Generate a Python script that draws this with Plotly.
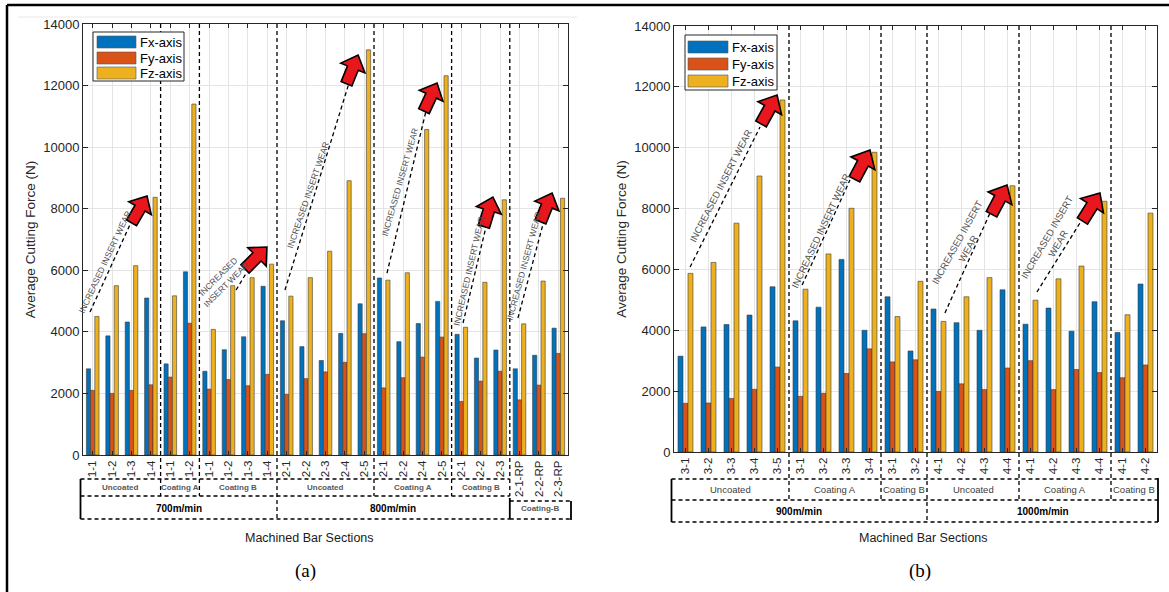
import math
import plotly.graph_objects as go

W, H = 1169, 592
YMAX = 14000

# ---------------- data : panel (a) ----------------
a_labels = ["1-1", "1-2", "1-3", "1-4", "1-1", "1-2", "1-1", "1-2", "1-3", "1-4",
            "2-1", "2-2", "2-3", "2-4", "2-5", "2-1", "2-2", "2-4", "2-5",
            "2-1", "2-2", "2-3", "2-1-RP", "2-2-RP", "2-3-RP"]
a_fx = [2800, 3870, 4320, 5100, 2960, 5950, 2720, 3420, 3840, 5480,
        4360, 3520, 3070, 3950, 4910, 5750, 3680, 4270, 4990,
        3920, 3150, 3410, 2800, 3240, 4120]
a_fy = [2100, 2000, 2100, 2280, 2530, 4280, 2140, 2450, 2250, 2620,
        1970, 2480, 2700, 3010, 3940, 2180, 2510, 3180, 3830,
        1740, 2400, 2720, 1790, 2270, 3300]
a_fz = [4500, 5500, 6150, 8370, 5170, 11400, 4080, 5500, 5760, 6200,
        5160, 5760, 6620, 8910, 13160, 5680, 5920, 10570, 12320,
        4150, 5610, 8290, 4260, 5650, 8340]
a_groups = ["Uncoated", "Coating A", "Coating B", "Uncoated", "Coating A", "Coating B"]
a_group_sizes = [4, 2, 4, 5, 4, 3]
a_speeds = ["700m/min", "800m/min"]
a_speed_groups = [3, 3]
a_extra_label = "Coating-B"
a_extra_size = 3

# ---------------- data : panel (b) ----------------
b_labels = ["3-1", "3-2", "3-3", "3-4", "3-5", "3-1", "3-2", "3-3", "3-4", "3-1", "3-2",
            "4-1", "4-2", "4-3", "4-4", "4-1", "4-2", "4-3", "4-4", "4-1", "4-2"]
b_fx = [3150, 4110, 4190, 4500, 5430, 4310, 4760, 6330, 4000, 5100, 3320,
        4700, 4250, 4000, 5330, 4200, 4730, 3970, 4940, 3930, 5520]
b_fy = [1600, 1610, 1760, 2060, 2790, 1830, 1930, 2580, 3390, 2960, 3030,
        1990, 2240, 2050, 2760, 3000, 2050, 2710, 2610, 2440, 2860]
b_fz = [5870, 6230, 7520, 9070, 11570, 5350, 6510, 8010, 9850, 4450, 5610,
        4290, 5100, 5730, 8750, 4990, 5690, 6110, 8240, 4510, 7850]
b_groups = ["Uncoated", "Coating A", "Coating B", "Uncoated", "Coating A", "Coating B"]
b_group_sizes = [5, 4, 2, 4, 4, 2]
b_speeds = ["900m/min", "1000m/min"]
b_speed_groups = [3, 3]

series_names = ["Fx-axis", "Fy-axis", "Fz-axis"]
series_colors = ["#0072BD", "#D95319", "#EDB120"]

# "increased insert wear" call-outs, in data units (category index, force N)
a_wear = [
    dict(line=(-0.14, 4645, 2.08, 7698), text=(0.63, 6269), ang=65, txt="INCREASED INSERT WEAR", tip=(2.80, 8412), aang=60),
    dict(line=(7.39, 5359, 7.95, 5944), text=(6.66, 5684), ang=45, txt="INCREASED<br>INSERT WEAR", tip=(8.98, 6756), aang=45),
    dict(line=(9.91, 5359, 13.26, 12180), text=(11.10, 8445), ang=71, txt="INCREASED INSERT WEAR", tip=(13.68, 12992), aang=68),
    dict(line=(15.17, 5911, 17.23, 11303), text=(15.84, 8867), ang=74, txt="INCREASED INSERT WEAR", tip=(17.75, 12083), aang=65),
    dict(line=(19.09, 4287, 20.32, 7535), text=(19.40, 5976), ang=77, txt="INCREASED INSERT WEAR", tip=(20.63, 8380), aang=73),
    dict(line=(21.92, 4450, 23.31, 7730), text=(22.23, 6139), ang=75, txt="INCREASED INSERT WEAR", tip=(23.68, 8510), aang=68),
]
b_wear = [
    dict(line=(0.20, 6079, 3.24, 10680), text=(1.50, 8741), ang=63, txt="INCREASED INSERT WEAR", tip=(3.98, 11731), aang=61),
    dict(line=(5.07, 5488, 7.15, 8938), text=(5.85, 7262), ang=65, txt="INCREASED INSERT WEAR", tip=(8.02, 9924), aang=62),
    dict(line=(11.28, 4568, 13.24, 7854), text=(12.02, 6802), ang=61, txt="INCREASED INSERT<br>WEAR", tip=(13.98, 8774), aang=62),
    dict(line=(15.28, 5258, 17.15, 7525), text=(15.93, 6966), ang=60, txt="INCREASED INSERT<br>WEAR", tip=(18.02, 8511), aang=58),
]

# ---------------- layout geometry (pixels) ----------------
panels = [
    dict(labels=a_labels, vals=(a_fx, a_fy, a_fz), groups=a_groups, gsizes=a_group_sizes,
         speeds=a_speeds, sgroups=a_speed_groups, wear=a_wear,
         xa="x", ya="y", xkey="xaxis", ykey="yaxis",
         px0=83, px1=568, py0=24, py1=455,
         rows=(479, 496, 519), lab_y=(487, 508), row1_size=8, row1_color="#595959",
         row1_bold=True, lab_size=8.6, arrow=(31, 13, 14, 5.8),
         xtitle_x=310, cap="(a)", cap_x=305, ytitle_pad=4,
         leg=dict(x0=93, y0=32, x1=184, y1=81, sw_x0=97, sw_x1=136, text_x=138, rows=(42, 58, 73))),
    dict(labels=b_labels, vals=(b_fx, b_fy, b_fz), groups=b_groups, gsizes=b_group_sizes,
         speeds=b_speeds, sgroups=b_speed_groups, wear=b_wear,
         xa="x2", ya="y2", xkey="xaxis2", ykey="yaxis2",
         px0=674, px1=1157, py0=26, py1=452,
         rows=(479, 500, 522), lab_y=(489, 511), row1_size=9.5, row1_color="#404040",
         row1_bold=False, lab_size=9.6, arrow=(33, 13.5, 15, 6),
         xtitle_x=923, cap="(b)", cap_x=920, ytitle_pad=4,
         leg=dict(x0=685, y0=35, x1=777, y1=90, sw_x0=688, sw_x1=728, text_x=730, rows=(47, 64, 81))),
]


def XP(px):
    return px / W


def YP(py):
    return 1 - py / H


def xpx(p, i):
    return p["px0"] + (i + 0.5) / p["n"] * (p["px1"] - p["px0"])


def ypx(p, v):
    return p["py1"] - v / YMAX * (p["py1"] - p["py0"])


DASH = "4px,3px"
shapes = []
annotations = []


def seg(x0, y0, x1, y1, dash=True, width=1.3, color="black"):
    shapes.append(dict(type="line", xref="paper", yref="paper",
                       x0=XP(x0), y0=YP(y0), x1=XP(x1), y1=YP(y1),
                       line=dict(color=color, width=width, dash=DASH if dash else "solid")))


def rect(x0, y0, x1, y1, fill, line_color, width):
    shapes.append(dict(type="rect", xref="paper", yref="paper",
                       x0=XP(x0), y0=YP(y1), x1=XP(x1), y1=YP(y0),
                       fillcolor=fill, line=dict(color=line_color, width=width)))


def label(x, y, text, size, color="black", bold=False, family="Liberation Sans", xanchor="center"):
    annotations.append(dict(xref="paper", yref="paper", x=XP(x), y=YP(y), text=f"<b>{text}</b>" if bold else text,
                            showarrow=False, xanchor=xanchor, yanchor="middle",
                            font=dict(size=size, color=color, family=family)))


def arrow_path(tx, ty, ang, L, hw, hl, sw):
    a = math.radians(ang)
    ux, uy = math.cos(a), -math.sin(a)
    nx, ny = -uy, ux
    bx, by = tx - hl * ux, ty - hl * uy
    ex, ey = tx - L * ux, ty - L * uy
    pts = [(tx, ty), (bx + hw * nx, by + hw * ny), (bx + sw * nx, by + sw * ny),
           (ex + sw * nx, ey + sw * ny), (ex - sw * nx, ey - sw * ny),
           (bx - sw * nx, by - sw * ny), (bx - hw * nx, by - hw * ny)]
    return "M " + " L ".join(f"{XP(x):.5f},{YP(y):.5f}" for x, y in pts) + " Z"


fig = go.Figure()
layout_axes = {}

for p in panels:
    n = len(p["labels"])
    p["n"] = n
    idx = list(range(n))
    for name, color, vals in zip(series_names, series_colors, p["vals"]):
        fig.add_trace(go.Bar(x=idx, y=vals, name=name, xaxis=p["xa"], yaxis=p["ya"],
                             showlegend=False,
                             marker=dict(color=color, line=dict(color="#3a3a3a", width=0.6)),
                             customdata=p["labels"],
                             hovertemplate="%{customdata}<br>" + name + ": %{y} N<extra></extra>"))
    layout_axes[p["xkey"]] = dict(
        domain=[p["px0"] / W, p["px1"] / W], anchor=p["ya"], range=[-0.5, n - 0.5],
        tickmode="array", tickvals=idx, ticktext=p["labels"], tickangle=-90,
        ticks="inside", ticklen=4, tickcolor="#262626", showline=True, linecolor="#262626",
        linewidth=1, mirror="ticks", showgrid=True, gridcolor="#e4e4e4", gridwidth=1,
        zeroline=False, tickfont=dict(size=11.5, color="#262626"), automargin=False, fixedrange=True)
    layout_axes[p["ykey"]] = dict(
        domain=[1 - p["py1"] / H, 1 - p["py0"] / H], anchor=p["xa"], range=[0, YMAX],
        dtick=2000, tick0=0, tickformat="d", ticks="inside", ticklen=5, tickcolor="#262626",
        showline=True, linecolor="#262626", linewidth=1, mirror="ticks", showgrid=True,
        gridcolor="#e4e4e4", gridwidth=1, zeroline=False,
        tickfont=dict(size=13, color="#262626"), automargin=False, fixedrange=True,
        title=dict(text="Average Cutting Force (N)", font=dict(size=13.5, color="#262626"),
                   standoff=p["ytitle_pad"]))

    # ---- group boundaries ----
    cum = []
    s = 0
    for g in p["gsizes"]:
        s += g
        cum.append(s)
    speed_ends = []
    s = 0
    for k in p["sgroups"]:
        s += k
        speed_ends.append(cum[s - 1])
    r_top, r_mid, r_bot = p["rows"]
    left = p["px0"] - 2.5
    grp_end = xpx(p, cum[-1] - 0.5)
    has_extra = p is panels[0]
    right = grp_end if has_extra else p["px1"] + 1

    for c in cum[:-1] + ([cum[-1]] if has_extra else []):
        xb = c - 0.5
        bottom = r_bot if c in speed_ends[:-1] else r_mid
        shapes.append(dict(type="line", xref=p["xa"], yref="paper", x0=xb, x1=xb,
                           y0=YP(p["py0"]), y1=YP(bottom),
                           line=dict(color="black", width=1.3, dash=DASH)))
    for yy in (r_top, r_mid, r_bot):
        seg(left, yy, right, yy)
    seg(left, r_top, left, r_bot, dash=False, width=1.8)
    if has_extra:
        seg(grp_end, r_mid + 2, grp_end, r_bot, dash=False, width=1.8)
        ex_right = p["px1"] + 3
        seg(grp_end, r_mid + 5, ex_right, r_mid + 5)
        seg(grp_end, r_bot, ex_right, r_bot)
        seg(ex_right, r_mid + 5, ex_right, r_bot + 1, dash=False, width=1.8)
        label((grp_end + ex_right) / 2, p["lab_y"][1], a_extra_label, 8, color="#595959", bold=True)
    else:
        seg(right, r_top - 1, right, r_bot, dash=False, width=1.8)

    starts = [0] + cum[:-1]
    for gname, st, en in zip(p["groups"], starts, cum):
        x0 = left if st == 0 else xpx(p, st - 0.5)
        x1 = xpx(p, en - 0.5)
        label((x0 + x1) / 2, p["lab_y"][0], gname, p["row1_size"],
              color=p["row1_color"], bold=p["row1_bold"])
    gi = 0
    for spname, k in zip(p["speeds"], p["sgroups"]):
        st = starts[gi]
        en = cum[gi + k - 1]
        x0 = left if st == 0 else xpx(p, st - 0.5)
        x1 = xpx(p, en - 0.5) if en < p["n"] else right
        label((x0 + x1) / 2, p["lab_y"][1], spname, 10, bold=True)
        gi += k

    # ---- wear call-outs ----
    L, hw, hl, sw = p["arrow"]
    for w in p["wear"]:
        x0, y0, x1, y1 = w["line"]
        shapes.append(dict(type="line", xref=p["xa"], yref=p["ya"], x0=x0, y0=y0, x1=x1, y1=y1,
                           line=dict(color="black", width=1.3, dash=DASH)))
        annotations.append(dict(xref=p["xa"], yref=p["ya"], x=w["text"][0], y=w["text"][1],
                                text=w["txt"], showarrow=False, textangle=-w["ang"],
                                font=dict(size=p["lab_size"], color="#505050",
                                          family="Liberation Sans Narrow, Liberation Sans")))
        tx, ty = xpx(p, w["tip"][0]), ypx(p, w["tip"][1])
        shapes.append(dict(type="path", xref="paper", yref="paper",
                           path=arrow_path(tx, ty, w["aang"], L, hw, hl, sw),
                           fillcolor="#E8171D", line=dict(color="black", width=1.6)))

    # ---- legend box (series names and colours) ----
    lg = p["leg"]
    rect(lg["x0"], lg["y0"], lg["x1"], lg["y1"], "white", "#262626", 1)
    for name, color, yy in zip(series_names, series_colors, lg["rows"]):
        rect(lg["sw_x0"], yy - 6, lg["sw_x1"], yy + 6, color, "#555555", 0.6)
        label(lg["text_x"], yy, name, 13, color="black", xanchor="left")

    label(p["xtitle_x"], 538, "Machined Bar Sections", 12.5, color="#1a1a1a")
    label(p["cap_x"], 571, p["cap"], 19, color="black", family="Liberation Serif")

# outer frame and faint figure edge
seg(7, 5, 7, H + 2, dash=False, width=2.5)
seg(7, 5, W + 2, 5, dash=False, width=2.5)
seg(18, 17, 577, 17, dash=False, width=1, color="#e8e8e8")

fig.update_layout(
    width=W, height=H, margin=dict(l=0, r=0, t=0, b=0),
    template="none", paper_bgcolor="white", plot_bgcolor="white",
    font=dict(family="Liberation Sans, Arial, sans-serif", color="#262626"),
    barmode="group", bargap=0.35, bargroupgap=0.0,
    showlegend=False,
    shapes=shapes, annotations=annotations,
    **layout_axes,
)

fig.write_html("out.html", config={"displayModeBar": False},
               post_script="document.body.style.margin='0px';document.body.style.overflow='hidden';")
